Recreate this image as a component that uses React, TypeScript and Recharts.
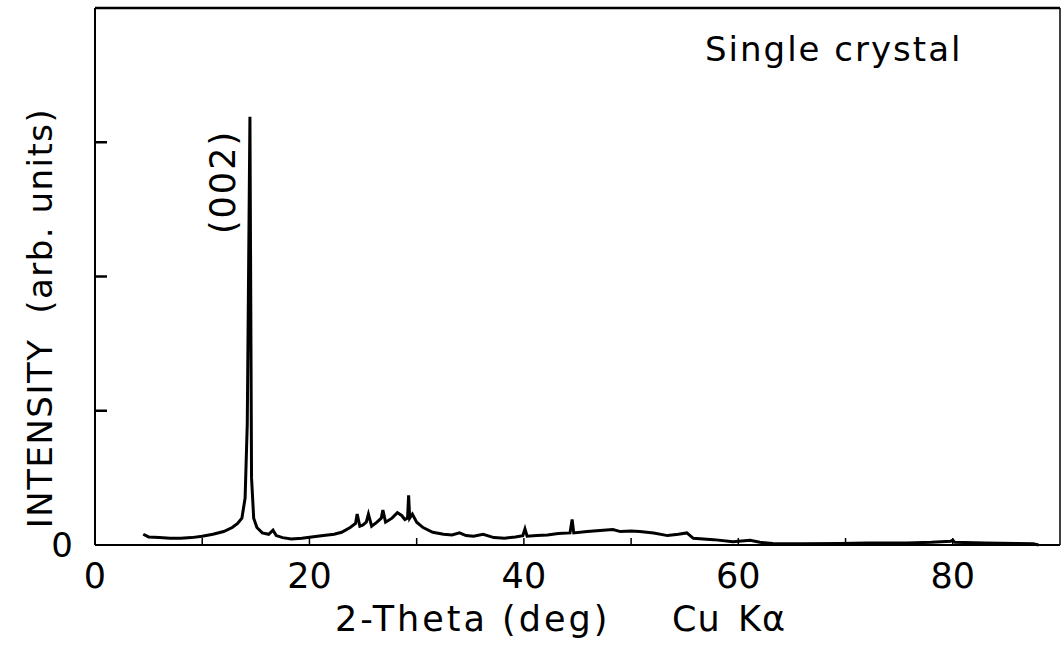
import { LineChart, Line, XAxis, YAxis, ReferenceLine } from 'recharts'

// 2-theta (deg) and intensity (arb. units)
const twoTheta = [
  4.5, 5, 6, 7, 8, 9, 10, 11, 12, 12.8, 13.3, 13.7, 14.0, 14.2, 14.45, 14.6, 14.8, 15.1, 15.6, 16.2,
  16.6, 16.9, 17.5, 18.3, 19.3, 20.2, 21.3, 22.3, 23.0, 23.8, 24.3, 24.45, 24.7, 25.0, 25.3, 25.5,
  25.8, 26.3, 26.7, 26.85, 27.1, 27.7, 28.2, 28.6, 28.9, 29.15, 29.25, 29.35, 29.6, 30.0, 30.6, 31.5,
  32.5, 33.3, 34.0, 34.6, 35.3, 36.2, 37.2, 38.2, 39.2, 39.9, 40.1, 40.3, 41.2, 42.2, 43.2, 44.3,
  44.5, 44.65, 45.9, 47.4, 48.3, 49.0, 50.0, 50.8, 52.1, 53.4, 54.4, 55.2, 55.8, 57.7, 59.5, 61.1,
  62, 63.2, 66, 69.5, 72, 75.7, 78, 79.8, 80.0, 80.2, 83, 86, 87.5, 88.0,
]
const intensity = [
  0.08, 0.06, 0.055, 0.05, 0.05, 0.055, 0.065, 0.08, 0.1, 0.13, 0.16, 0.2, 0.35, 0.9, 3.19, 0.5, 0.2, 0.13, 0.09, 0.08,
  0.11, 0.07, 0.055, 0.045, 0.05, 0.06, 0.07, 0.08, 0.095, 0.13, 0.16, 0.23, 0.14, 0.15, 0.17, 0.23,
  0.14, 0.17, 0.2, 0.26, 0.17, 0.2, 0.24, 0.22, 0.19, 0.2, 0.37, 0.2, 0.23, 0.17, 0.13, 0.095,
  0.08, 0.075, 0.09, 0.07, 0.065, 0.08, 0.055, 0.05, 0.06, 0.07, 0.12, 0.065, 0.07, 0.075, 0.085, 0.09,
  0.19, 0.09, 0.1, 0.11, 0.115, 0.1, 0.105, 0.1, 0.09, 0.07, 0.08, 0.09, 0.05, 0.04, 0.025, 0.035,
  0.02, 0.012, 0.01, 0.012, 0.015, 0.015, 0.02, 0.028, 0.035, 0.02, 0.015, 0.012, 0.01, 0,
]
const xTicks = [0, 10, 20, 30, 40, 50, 60, 70, 80, 90]
const xLabels = [0, 20, 40, 60, 80]
const yTicks = [0, 1, 2, 3, 4]

const data = twoTheta.map((d, i) => ({ deg: d, y: intensity[i] }))

const FONT = '"DejaVu Sans", sans-serif'

function XTick(props: any) {
  const { x, y, payload } = props
  const v = payload.value
  return (
    <g>
      {v > 0 && v < 90 && <line x1={x} x2={x} y1={y} y2={y - 7} stroke="#000" strokeWidth={1.5} />}
      {xLabels.includes(v) && (
        <text x={x} y={y + 43} textAnchor="middle" fontSize={35} fontFamily={FONT} fill="#000">{v}</text>
      )}
    </g>
  )
}

function YTick(props: any) {
  const { x, y, payload } = props
  const v = payload.value
  return (
    <g>
      {v > 0 && v < 4 && <line x1={x} x2={x + 12} y1={y} y2={y} stroke="#000" strokeWidth={2.5} />}
      {v === 0 && (
        <text x={x - 33} y={y + 12} textAnchor="middle" fontSize={34} fontFamily={FONT} fill="#000">0</text>
      )}
    </g>
  )
}

const label = { position: 'absolute' as const, whiteSpace: 'pre' as const, lineHeight: 1 }

export default function App() {
  return (
    <div style={{ position: 'relative', width: 1063, height: 645, background: '#fff', fontFamily: FONT }}>
      <style>{'body{margin:0}'}</style>
      <LineChart width={1063} height={645} data={data} margin={{ top: 8, right: 3, left: 35, bottom: 40 }}>
        <XAxis dataKey="deg" type="number" domain={[0, 90]} ticks={xTicks} interval={0} height={60}
          tickSize={0} tickMargin={0} tick={<XTick />} axisLine={{ stroke: '#000', strokeWidth: 2 }} tickLine={false} />
        <YAxis type="number" domain={[0, 4]} ticks={yTicks} interval={0} width={60}
          tickSize={0} tickMargin={0} tick={<YTick />} axisLine={{ stroke: '#000', strokeWidth: 2 }} tickLine={false} />
        <ReferenceLine y={4} stroke="#000" strokeWidth={2.5} />
        <ReferenceLine x={90} stroke="#000" strokeWidth={1.5} />
        <Line dataKey="y" type="linear" stroke="#000" strokeWidth={3} dot={false} isAnimationActive={false} />
      </LineChart>
      <div style={{ ...label, left: 705, top: 32, fontSize: 34, letterSpacing: 2 }}>Single crystal</div>
      <div style={{ ...label, left: 223, top: 182, fontSize: 35, letterSpacing: 2,
        transform: 'translate(-50%, -50%) rotate(-90deg)' }}>(002)</div>
      <div style={{ ...label, left: 40, top: 318, fontSize: 34, letterSpacing: 1.5,
        transform: 'translate(-50%, -50%) rotate(-90deg)' }}>INTENSITY  (arb. units)</div>
      <div style={{ ...label, left: 335, top: 602, fontSize: 35, letterSpacing: 3 }}>2-Theta (deg)</div>
      <div style={{ ...label, left: 672, top: 602, fontSize: 35, letterSpacing: 1 }}>Cu</div>
      <div style={{ ...label, left: 738, top: 602, fontSize: 35, letterSpacing: 1 }}>Kα</div>
    </div>
  )
}
